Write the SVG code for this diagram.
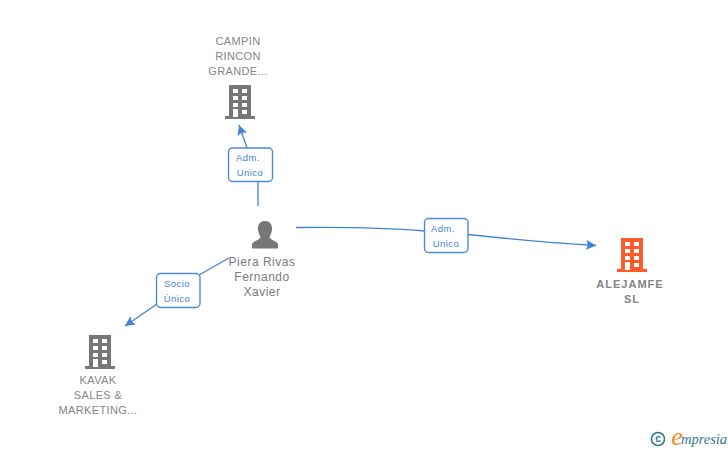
<svg xmlns="http://www.w3.org/2000/svg" width="728" height="450" viewBox="0 0 728 450">
<style>
text{font-family:"Liberation Sans",Arial,sans-serif;text-anchor:middle}
.n{font-size:11px;fill:#858585;letter-spacing:.35px}
.nb{font-size:11px;fill:#858585;font-weight:bold;letter-spacing:1px}
.p{font-size:12px;fill:#7b7b7b;letter-spacing:.5px}
.l{font-size:9.500px;fill:#3f83d8;letter-spacing:.45px}
.c{fill:none;stroke:#3f83d8;stroke-width:1.300}
.b{fill:#fff;stroke:#4a8ade;stroke-width:1.400}
.w{fill:#fff}
</style>
<defs>
<marker id="a" markerUnits="userSpaceOnUse" markerWidth="12" markerHeight="12" refX="10" refY="5" orient="auto"><path d="M0 0L10 5L0 10L2 5Z" fill="#3f83d8"/></marker>
<g id="bld">
<path d="M-11 -17H11V14H15V17H-15V14H-11Z"/>
<g class="w"><rect x="-7" y="-13" width="5" height="4"/><rect x="2" y="-13" width="5" height="4"/><rect x="-7" y="-6" width="5" height="4"/><rect x="2" y="-6" width="5" height="4"/><rect x="-7" y="1" width="5" height="4"/><rect x="2" y="1" width="5" height="4"/><rect x="-7" y="7" width="5" height="8"/><rect x="2" y="8" width="5" height="4"/></g>
</g>
</defs>
<g id="connectors">
<path class="c" d="M258 206V182"/>
<path class="c" d="M247 148L239 125" marker-end="url(#a)"/>
<path class="c" d="M296 227.500C340 227 390 228 425 231"/>
<path class="c" d="M468 234.500C510 239 555 243 596 245.500" marker-end="url(#a)"/>
<path class="c" d="M229 258L199 275"/>
<path class="c" d="M157 304L125 326" marker-end="url(#a)"/>
</g>
<g id="n-campin">
<use href="#bld" x="240" y="102" fill="#777"/>
<text class="n" x="238" y="45">CAMPIN</text><text class="n" x="238" y="60">RINCON</text><text class="n" x="238" y="75">GRANDE...</text>
</g>
<g id="e-campin"><rect class="b" x="228.500" y="148" width="44" height="33.500" rx="4"/><text class="l" x="248" y="161">Adm.</text><text class="l" x="250" y="176">Unico</text></g>
<g id="n-piera">
<path d="M265 221C270 221 272.500 225 272 230C271.500 233 270.500 235 269.500 237C270 240 277 241 278 244V248.500H252V244C253 241 260 240 260.500 237C259.500 235 258.500 233 258 230C257.500 225 260 221 265 221Z" fill="#777"/>
<text class="p" x="262" y="266">Piera Rivas</text><text class="p" x="262" y="281">Fernando</text><text class="p" x="262" y="296">Xavier</text>
</g>
<g id="e-alejamfe"><rect class="b" x="424.500" y="218.500" width="43.500" height="34" rx="4"/><text class="l" x="443" y="232">Adm.</text><text class="l" x="446" y="247">Unico</text></g>
<g id="n-alejamfe">
<use href="#bld" x="632" y="255" fill="#ff5a2b"/>
<text class="nb" x="630" y="288">ALEJAMFE</text><text class="nb" x="632" y="303">SL</text>
</g>
<g id="e-kavak"><rect class="b" x="156.500" y="273.500" width="43.500" height="34" rx="4"/><text class="l" x="177" y="287">Socio</text><text class="l" x="177" y="302">Único</text></g>
<g id="n-kavak">
<use href="#bld" x="100" y="352" fill="#777"/>
<text class="n" x="98" y="384">KAVAK</text><text class="n" x="98" y="399">SALES &amp;</text><text class="n" x="98" y="414">MARKETING...</text>
</g>
<g id="logo">
<circle cx="658" cy="439" r="6.500" fill="none" stroke="#2f7a8c" stroke-width="1.600"/>
<text x="658" y="442" style="font-size:10px;fill:#2f7a8c;font-weight:bold">c</text>
<text x="677" y="445" style="font-size:26px;fill:#f08a1d;font-family:'Liberation Serif',serif;font-style:italic">e</text>
<text x="704" y="444" style="font-size:14.500px;fill:#2f7a8c;font-family:'Liberation Serif',serif;font-style:italic">mpresia</text>
</g>
</svg>
